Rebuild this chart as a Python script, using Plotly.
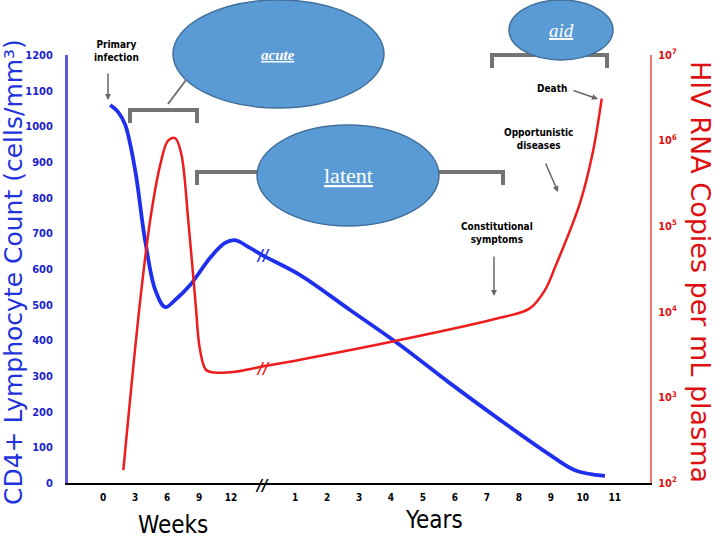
import plotly.graph_objects as go

# ---------------- data ----------------
week_ticks = [0, 3, 6, 9, 12]
year_ticks = [1, 2, 3, 4, 5, 6, 7, 8, 9, 10, 11]

# unified timeline position (weeks/3, then years+5 after the axis break)
cd4_pos = [0.22, 0.47, 0.69, 1.0, 1.31, 1.63, 1.94, 2.25, 2.72, 3.34, 3.81, 4.12,
           4.59, 4.97, 6.16, 7.72, 9.28, 10.84, 12.41, 13.97, 14.75, 15.69]
cd4_count = [1060, 1040, 1004, 877, 681, 541, 493, 513, 555, 631, 673, 681,
             659, 639, 583, 485, 387, 280, 177, 79, 36, 20]

rna_pos = [0.63, 0.84, 1.16, 1.47, 1.78, 2.03, 2.25, 2.44, 2.66, 2.88, 3.03, 3.22,
           3.5, 4.12, 4.97, 6.16, 9.28, 12.41, 13.34, 13.81, 14.13, 14.91, 15.31, 15.59]
rna_log = [2.15, 2.97, 4.14, 5.07, 5.71, 6.0, 6.03, 5.85, 5.07, 4.14, 3.55, 3.32,
           3.29, 3.30, 3.36, 3.44, 3.67, 3.93, 4.04, 4.25, 4.52, 5.27, 5.86, 6.49]

cd4_ticks = list(range(0, 1300, 100))
rna_ticks = [2, 3, 4, 5, 6, 7]

# ---------------- figure ----------------
W, H = 720, 540
L, R, T, B = 68, 70, 55, 57
PW, PH = W - L - R, H - T - B


def px(x):
    return (x - L) / PW


def py(y):
    return (H - B - y) / PH


tick_pos = [w / 3 for w in week_ticks] + [y + 5 for y in year_ticks]
tick_txt = [str(w) for w in week_ticks] + [str(y) for y in year_ticks]

fig = go.Figure()
fig.add_trace(go.Scatter(x=cd4_pos, y=cd4_count, mode="lines",
                         line=dict(color="#1f2fee", width=3.8, shape="spline"),
                         yaxis="y", showlegend=False))
fig.add_trace(go.Scatter(x=rna_pos, y=[10 ** v for v in rna_log], mode="lines",
                         line=dict(color="#ee1c1c", width=2.5, shape="spline"),
                         yaxis="y2", showlegend=False))

cond = "DejaVu Sans Condensed, Liberation Sans Narrow, DejaVu Sans"

fig.update_layout(
    width=W, height=H, margin=dict(l=L, r=R, t=T, b=B),
    paper_bgcolor="white", plot_bgcolor="white",
    xaxis=dict(range=[-1.1, 17.1], tickvals=tick_pos, ticktext=tick_txt,
               showgrid=False, zeroline=False, showline=True, linecolor="black",
               linewidth=2, ticks="", ticklabelstandoff=4,
               tickfont=dict(size=10, color="black", family=cond, weight="bold")),
    yaxis=dict(range=[0, 1200], tickvals=cd4_ticks, showgrid=False, zeroline=False,
               showline=True, linecolor="#5a5ae0", linewidth=3, ticks="",
               ticklabelstandoff=10,
               tickfont=dict(size=11, color="#1a22cc", family=cond, weight="bold")),
    yaxis2=dict(type="log", range=[2, 7], overlaying="y", side="right",
                tickvals=[10 ** v for v in rna_ticks],
                ticktext=["10<sup>%d</sup>" % v for v in rna_ticks],
                showgrid=False, zeroline=False, showline=True, linecolor="#ee7777",
                linewidth=2, ticks="", ticklabelstandoff=4,
                tickfont=dict(size=11, color="#dd1111", family=cond, weight="bold")),
)

shapes = []
gray = "#737373"
# brackets
for x0, x1, yb in [(130, 197, 110), (197, 503, 172), (492, 607, 55)]:
    shapes.append(dict(type="path", xref="paper", yref="paper",
                       path="M %f %f L %f %f L %f %f L %f %f" % (
                           px(x0), py(yb + 13), px(x0), py(yb), px(x1), py(yb), px(x1), py(yb + 13)),
                       line=dict(color=gray, width=4)))
# connector acute
shapes.append(dict(type="line", xref="paper", yref="paper",
                   x0=px(168), y0=py(104), x1=px(186), y1=py(80),
                   line=dict(color=gray, width=2)))
# ellipses
for x0, x1, y0, y1 in [(173, 384, 0, 108), (257, 439, 125, 226), (509, 613, 0, 60)]:
    shapes.append(dict(type="circle", xref="paper", yref="paper",
                       x0=px(x0), x1=px(x1), y0=py(y1), y1=py(y0),
                       fillcolor="#5b9bd5", line=dict(color="#41719c", width=1.5)))
fig.update_layout(shapes=shapes)

ann = []


def label(text, x, y, size=10, color="black", family=cond, **kw):
    ann.append(dict(text=text, x=px(x), y=py(y), xref="paper", yref="paper",
                    xanchor="center", yanchor="middle",
                    showarrow=False, font=dict(size=size, color=color, family=family),
                    **kw))


serif = "Liberation Serif, DejaVu Serif, serif"
label("<i><b><u>acute</u></b></i>", 278, 55, size=15, color="white", family=serif)
label("<u>latent</u>", 348, 175, size=22, color="white", family=serif)
label("<i><u>aid</u></i>", 561, 31, size=19, color="white", family=serif)

label("<b>Primary<br>infection</b>", 116, 51, size=10)
label("<b>Death</b>", 552, 88, size=10)
label("<b>Opportunistic<br>diseases</b>", 538, 139, size=10)
label("<b>Constitutional<br>symptoms</b>", 497, 233, size=10)

# arrows (tail -> head, pixel offsets)
for (x0, y0, x1, y1) in [(108, 72, 108, 100), (572, 90, 598, 99),
                         (545, 162, 558, 192), (494, 255, 494, 296)]:
    ann.append(dict(x=px(x1), y=py(y1), ax=x0 - x1, ay=y0 - y1, xref="paper", yref="paper",
                    axref="pixel", ayref="pixel", text="", showarrow=True,
                    arrowhead=2, arrowsize=0.8, arrowwidth=1.5, arrowcolor="#666666"))

# break marks
label("<i><b>//</b></i>", 263, 255, size=16, color="#1f2fee")
label("<i><b>//</b></i>", 263, 368, size=16, color="#ee1c1c")
label("<i><b>//</b></i>", 262, 485, size=16, color="black")

# axis titles
label("Weeks", 173, 525, size=24, family=cond)
label("Years", 434, 520, size=24, family=cond)
label("CD4+ Lymphocyte Count (cells/mm³)", 13, 272, size=25,
      color="#2233dd", family="DejaVu Sans", textangle=-90)
label("HIV RNA Copies per mL plasma", 701, 272, size=27,
      color="#dd1111", family="DejaVu Sans", textangle=90)

fig.update_layout(annotations=ann)
fig.write_html("out.html", config={"displayModeBar": False},
               post_script="document.body.style.margin='0';")
